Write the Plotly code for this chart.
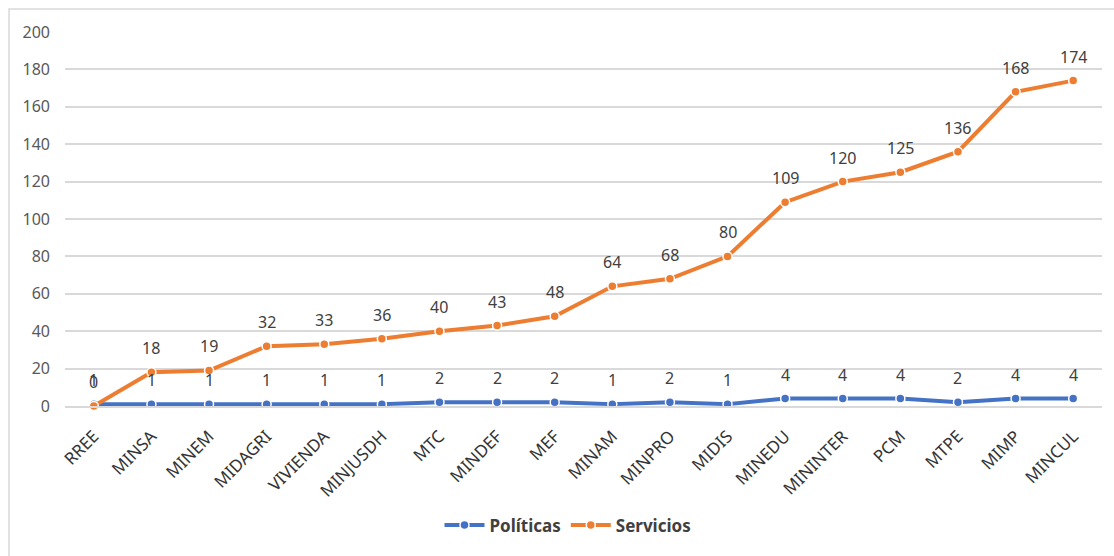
import plotly.graph_objects as go

categories = ["RREE", "MINSA", "MINEM", "MIDAGRI", "VIVIENDA", "MINJUSDH", "MTC", "MINDEF",
              "MEF", "MINAM", "MINPRO", "MIDIS", "MINEDU", "MININTER", "PCM", "MTPE", "MIMP", "MINCUL"]
politicas = [1, 1, 1, 1, 1, 1, 2, 2, 2, 1, 2, 1, 4, 4, 4, 2, 4, 4]
servicios = [0, 18, 19, 32, 33, 36, 40, 43, 48, 64, 68, 80, 109, 120, 125, 136, 168, 174]
y_ticks = [0, 20, 40, 60, 80, 100, 120, 140, 160, 180, 200]

BLUE = "#4472C4"
ORANGE = "#ED7D31"
FONT = "Noto Sans"

fig = go.Figure()
for name, vals, col in [("Políticas", politicas, BLUE), ("Servicios", servicios, ORANGE)]:
    fig.add_trace(go.Scatter(
        x=categories, y=vals, name=name, mode="lines+markers",
        line=dict(color=col, width=4),
        marker=dict(size=9, color=col, line=dict(color="white", width=1.5)),
        cliponaxis=False,
    ))
    for c, v in zip(categories, vals):
        fig.add_annotation(x=c, y=v, text=str(v), showarrow=False, yshift=24,
                           font=dict(family=FONT, size=16, color="#404040"))

# chart border
fig.add_shape(type="rect", xref="paper", yref="paper",
              x0=(9 - 65) / 1037, x1=(1120 - 65) / 1037,
              y0=-(565 - 408) / 376, y1=1 + (32 - 9) / 376,
              line=dict(color="#D9D9D9", width=1.5), fillcolor="rgba(0,0,0,0)", layer="below")

fig.update_layout(
    width=1114, height=556,
    margin=dict(l=65, r=12, t=32, b=148),
    paper_bgcolor="white", plot_bgcolor="white",
    font=dict(family=FONT, size=16, color="#595959"),
    showlegend=True,
    legend=dict(orientation="h", x=(568 - 65) / 1037, xanchor="center",
                y=-(528 - 408) / 376, yanchor="middle",
                font=dict(family=FONT, size=17, color="#404040", weight="bold"),
                itemwidth=40),
    xaxis=dict(type="category", tickangle=-45, showgrid=False, showline=True,
               linecolor="#D9D9D9", linewidth=1.5, ticks="", ticklabelstandoff=12,
               tickfont=dict(family=FONT, size=17, color="#333333"),
               range=[-0.5, len(categories) - 0.5]),
    yaxis=dict(range=[0, 200], tickvals=y_ticks, showgrid=True, gridcolor="#D9D9D9",
               gridwidth=1.5, zeroline=False, showline=False, ticks="",
               ticklabelstandoff=14,
               tickfont=dict(family=FONT, size=16, color="#595959")),
)

fig.write_html("out.html")
